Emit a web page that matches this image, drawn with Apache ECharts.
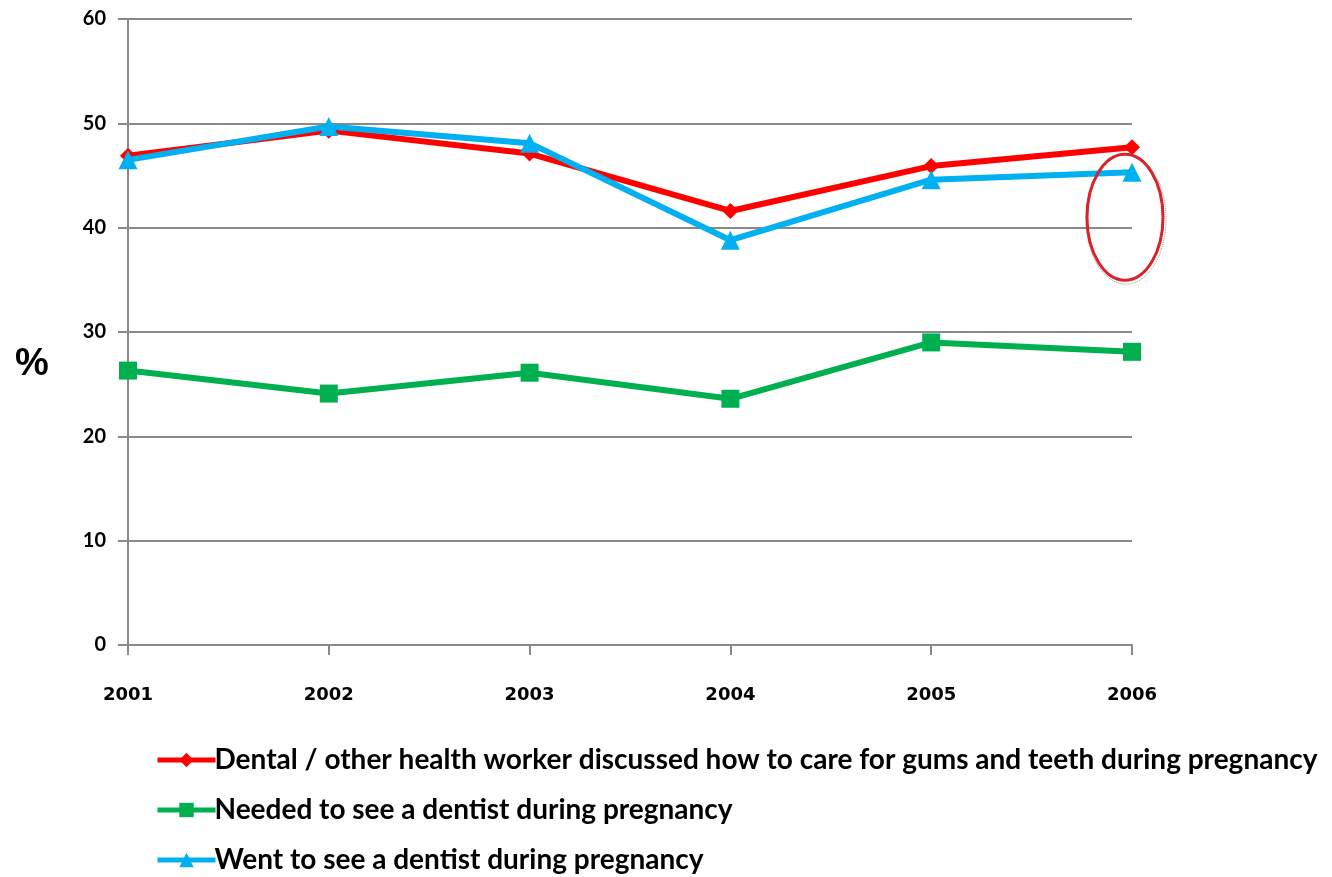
<!DOCTYPE html>
<html>
<head>
<meta charset="utf-8">
<script src="https://cdn.jsdelivr.net/npm/echarts@6/dist/echarts.min.js"></script>
<style>
  html, body { margin: 0; padding: 0; background: #fff; }
  #chart { width: 1332px; height: 877px; }
</style>
</head>
<body>
<div id="chart"></div>
<script>
// Survey years
const years = ['2001', '2002', '2003', '2004', '2005', '2006'];

// Percentages per year
const discussedCare = [46.9, 49.3, 47.1, 41.6, 45.9, 47.7];
const neededDentist = [26.3, 24.1, 26.1, 23.6, 29.0, 28.1];
const wentDentist = [46.5, 49.7, 48.1, 38.8, 44.6, 45.3];

const seriesNames = [
  'Dental / other health worker discussed how to care for gums and teeth during pregnancy',
  'Needed to see a dentist during pregnancy',
  'Went to see a dentist during pregnancy'
];

const gridColor = '#898989';
const chart = echarts.init(document.getElementById('chart'));

chart.setOption({
  animation: false,
  backgroundColor: '#ffffff',
  grid: { left: 128, right: 200, top: 19, bottom: 232 },
  legend: {
    orient: 'vertical',
    left: 155,
    top: 746,
    padding: 0,
    itemGap: 22,
    itemWidth: 58,
    itemHeight: 18,
    lineStyle: { width: 5 },
    textStyle: { fontFamily: 'Lato', fontSize: 28, color: '#000', fontWeight: 'bold', padding: [0, 0, 0, -6] },
    data: seriesNames
  },
  xAxis: {
    type: 'category',
    data: years,
    boundaryGap: false,
    axisLine: { lineStyle: { color: gridColor, width: 2 } },
    axisTick: { show: true, length: 10, lineStyle: { color: gridColor, width: 2 } },
    axisLabel: { margin: 41, fontFamily: 'Verdana, DejaVu Sans', fontWeight: 'bold', fontSize: 18, color: '#000' }
  },
  yAxis: {
    type: 'value',
    min: 0,
    max: 60,
    interval: 10,
    axisLine: { show: true, lineStyle: { color: gridColor, width: 2 } },
    axisTick: { show: true, length: 10, lineStyle: { color: gridColor, width: 2 } },
    axisLabel: { margin: 22, fontFamily: 'Lato', fontWeight: 'bold', fontSize: 20, color: '#000' },
    splitLine: { lineStyle: { color: gridColor, width: 2 } }
  },
  series: [
    {
      name: seriesNames[0], type: 'line', data: discussedCare,
      symbol: 'diamond', symbolSize: 16, z: 3,
      lineStyle: { color: '#ff0000', width: 6 }, itemStyle: { color: '#ff0000' }
    },
    {
      name: seriesNames[1], type: 'line', data: neededDentist,
      symbol: 'rect', symbolSize: 18, z: 2,
      lineStyle: { color: '#00b050', width: 6 }, itemStyle: { color: '#00b050' }
    },
    {
      name: seriesNames[2], type: 'line', data: wentDentist,
      symbol: 'triangle', symbolSize: 19, z: 4,
      lineStyle: { color: '#00b0f0', width: 6 }, itemStyle: { color: '#00b0f0' }
    }
  ]
});

// Axis unit and highlight ring around the 2006 values
const centre = chart.convertToPixel({ gridIndex: 0 }, ['2006', 41.0]);
chart.setOption({
  graphic: [
    {
      type: 'text', left: 15, top: 346, z: 10,
      style: { text: '%', fontFamily: 'Liberation Sans', fontWeight: 'bold', fontSize: 38, fill: '#000' }
    },
    {
      type: 'ellipse', z: 10,
      shape: { cx: centre[0] - 7, cy: centre[1], rx: 40, ry: 65 },
      style: { fill: 'none', stroke: '#555', lineWidth: 1, lineDash: [1, 1], opacity: 0.6 },
      position: [1, 2]
    },
    {
      type: 'ellipse', z: 11,
      shape: { cx: centre[0] - 7, cy: centre[1], rx: 38, ry: 63 },
      style: { fill: 'none', stroke: '#d9222a', lineWidth: 3 }
    }
  ]
});
</script>
</body>
</html>
